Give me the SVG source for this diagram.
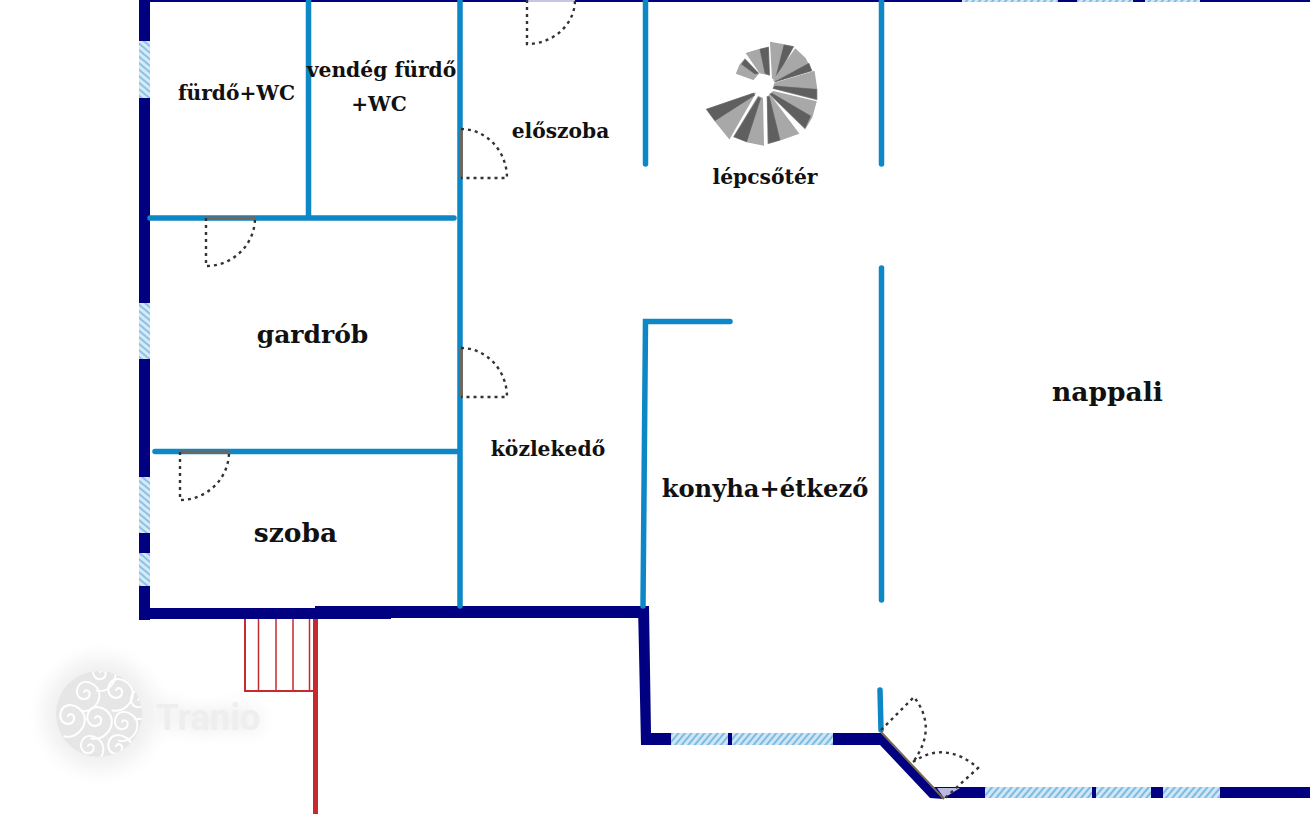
<svg xmlns="http://www.w3.org/2000/svg" xmlns:xlink="http://www.w3.org/1999/xlink" width="1310" height="814" viewBox="0 0 1310 814">
<style>
.t{font-family:"DejaVu Serif","Liberation Serif",serif;font-weight:700;fill:#111;text-anchor:middle}
.blue{fill:none;stroke:#0e87c6;stroke-width:5.500;stroke-linecap:round;stroke-linejoin:miter}
.navy{fill:#000080}
.door{fill:none;stroke:#333;stroke-width:2.400;stroke-dasharray:3 4}
.leaf{fill:none;stroke:#6e675f;stroke-width:3}
.win{fill:url(#hatch)}
.winL{fill:url(#hatchL)}
.li{fill:#a8a8a8;stroke:#a8a8a8;stroke-width:4}
.dk{fill:#5f5f5f;stroke:#5f5f5f;stroke-width:1.500}
.red{fill:none;stroke:#c62a2f}
.sw{fill:none;stroke:#fff;stroke-width:1.700;stroke-linecap:round}
.wm{font-family:Roboto,"Open Sans",sans-serif;font-weight:700;font-size:36.500px}
</style>
<defs>
<pattern id="hatch" width="5" height="5" patternUnits="userSpaceOnUse" patternTransform="rotate(40)">
<rect width="5" height="5" fill="#cfe6f6"/><rect width="2" height="5" fill="#7dbbe0"/>
</pattern>
<pattern id="hatchL" width="5" height="5" patternUnits="userSpaceOnUse" patternTransform="rotate(-50)">
<rect width="5" height="5" fill="#d6e9f7"/><rect width="2" height="5" fill="#8cc2e4"/>
</pattern>
<filter id="glow" x="-50%" y="-80%" width="200%" height="260%"><feGaussianBlur stdDeviation="9"/></filter>
<path id="sp" class="sw" d="M0 0c2-3 6-1 5 3s-7 5-10 1s-1-12 5-13s14 4 14 12s-8 16-17 14"/>
<clipPath id="wmclip"><circle cx="99" cy="714" r="43"/></clipPath>
</defs>
<rect width="1310" height="814" fill="#fff"/>

<g id="watermark">
<ellipse cx="100" cy="714" rx="56" ry="56" fill="#f0f0f0" filter="url(#glow)"/>
<text x="156" y="730" class="wm" fill="#e2e2e2" filter="url(#glow)">Tranio</text>
<circle cx="99" cy="714" r="43" fill="#e6e6e6"/>
<g clip-path="url(#wmclip)">
<use xlink:href="#sp" transform="translate(95 718) scale(1.200)"/>
<use xlink:href="#sp" transform="translate(116 690) scale(1.200)"/>
<use xlink:href="#sp" transform="translate(84 692) scale(1.100)"/>
<use xlink:href="#sp" transform="translate(122 722) scale(1.100)"/>
<use xlink:href="#sp" transform="translate(88 746) scale(1.100)"/>
<use xlink:href="#sp" transform="translate(116 746) scale(1.200)"/>
<use xlink:href="#sp" transform="translate(68 716) scale(1.200)"/>
<use xlink:href="#sp" transform="translate(100 672) scale(1.100)"/>
<use xlink:href="#sp" transform="translate(138 700) scale(1.100)"/>
</g>
<text x="156" y="730" class="wm" fill="#eeeeee">Tranio</text>
</g>

<g id="walls-outer">
<rect class="navy" x="139" y="0" width="11" height="620"/>
<rect class="navy" x="139" y="608" width="252" height="11"/>
<rect class="navy" x="315" y="606" width="330" height="12"/>
<polygon class="navy" points="638,606 649,606 651,733 881,733 944,799 930,798 880,745 641,745"/>
<rect class="navy" x="930" y="787" width="380" height="11"/>
<rect class="navy" x="140" y="0" width="1170" height="2"/>
</g>
<g id="windows">
<rect class="winL" x="139" y="41" width="11" height="57"/>
<rect class="winL" x="139" y="303" width="11" height="56"/>
<rect class="winL" x="139" y="477" width="11" height="56"/>
<rect class="winL" x="139" y="553" width="11" height="33"/>
<rect class="win" x="671" y="733" width="57" height="12"/>
<rect class="win" x="732" y="733" width="101" height="12"/>
<rect class="win" x="985" y="787" width="107" height="11"/>
<rect class="win" x="1096" y="787" width="55" height="11"/>
<rect class="win" x="1163" y="787" width="57" height="11"/>
<rect class="win" x="962" y="0" width="96" height="2"/>
<rect class="win" x="1077" y="0" width="56" height="2"/>
<rect class="win" x="1145" y="0" width="55" height="2"/>
<rect x="527" y="0" width="48" height="2" fill="#c5c5e6"/>
</g>
<g id="walls-inner">
<path class="blue" d="M308.500 0V218M150 218H454M460 0V606M155 451.500H458M645.500 0V164M881.500 0V164M881.500 268V600M880 690L881 730M730 321.500H645.500L643 606"/>
</g>
<g id="stairs-outside">
<path class="red" stroke-width="5" d="M315.500 619V814"/>
<path class="red" stroke-width="2" d="M245 619V691H315"/>
<path class="red" stroke-width="1.500" d="M258.500 619V691M276 619V691M293 619V691M309.500 619V691"/>
</g>
<g id="spiral" transform="translate(690 30) scale(.3333)">
<polygon class="li" points="190,148 140,130 150,105 165,88 205,130"/><polygon class="dk" points="165,88 155,103 195,132 205,130"/>
<polygon class="li" points="210,128 170,70 210,58 235,52 238,135"/><polygon class="dk" points="210,58 235,52 238,135 225,130"/>
<polygon class="li" points="248,145 242,38 282,45 310,50 258,148"/><polygon class="dk" points="282,45 310,50 256,148"/>
<polygon class="li" points="252,150 316,58 345,85 365,122 255,155"/><polygon class="dk" points="357,100 365,122 255,155"/>
<polygon class="li" points="255,160 372,125 380,178 380,208 250,175"/><polygon class="dk" points="380,178 380,208 250,175 255,168"/>
<polygon class="li" points="250,185 378,215 365,262 345,295 240,193"/><polygon class="dk" points="362,258 345,295 240,193 246,190"/>
<polygon class="li" points="240,197 325,310 270,330 235,340 232,200"/><polygon class="dk" points="270,330 235,340 232,200 238,200"/>
<polygon class="li" points="217,205 220,345 170,335 132,320 205,200"/><polygon class="dk" points="170,335 132,320 205,202 212,205"/>
<polygon class="li" points="195,190 118,325 75,272 50,238 190,190"/><polygon class="dk" points="75,272 50,238 190,190 195,195"/>
</g>
<g id="doors">
<path class="leaf" d="M461.500 129V178M461.500 348V397M206 218H255M180 452H229"/>
<path class="door" d="M527 0V44A48 44 0 0 0 575 0"/>
<path class="door" d="M461 129A46 49 0 0 1 507 178H461"/>
<path class="door" d="M461 348A46 49 0 0 1 507 397H461"/>
<path class="door" d="M206 218V266A49 48 0 0 0 255 218"/>
<path class="door" d="M180 452V500A49 48 0 0 0 229 452"/>
<polygon points="937,788 960,788 944,798" fill="#b9b9e2"/>
<path class="leaf" d="M881 732L944 799" style="stroke:#7a6a55;stroke-width:2"/>
<path class="door" d="M881 730L914 697Q938 728 913 762"/>
<path class="door" d="M913 762Q945 740 978 768L944 799"/>
</g>
<g id="labels">
<text class="t" x="236.500" y="100" font-size="20.200">fürdő+WC</text>
<text class="t" x="381.500" y="77" font-size="20.300">vendég fürdő</text>
<text class="t" x="379" y="111" font-size="20.200">+WC</text>
<text class="t" x="560.500" y="138" font-size="20.200">előszoba</text>
<text class="t" x="765" y="184" font-size="20.300">lépcsőtér</text>
<text class="t" x="312.500" y="343" font-size="25">gardrób</text>
<text class="t" x="548" y="456" font-size="20.300">közlekedő</text>
<text class="t" x="765" y="497" font-size="24.200">konyha+étkező</text>
<text class="t" x="295.500" y="542" font-size="26.500">szoba</text>
<text class="t" x="1107.500" y="401" font-size="26.500">nappali</text>
</g>
</svg>
